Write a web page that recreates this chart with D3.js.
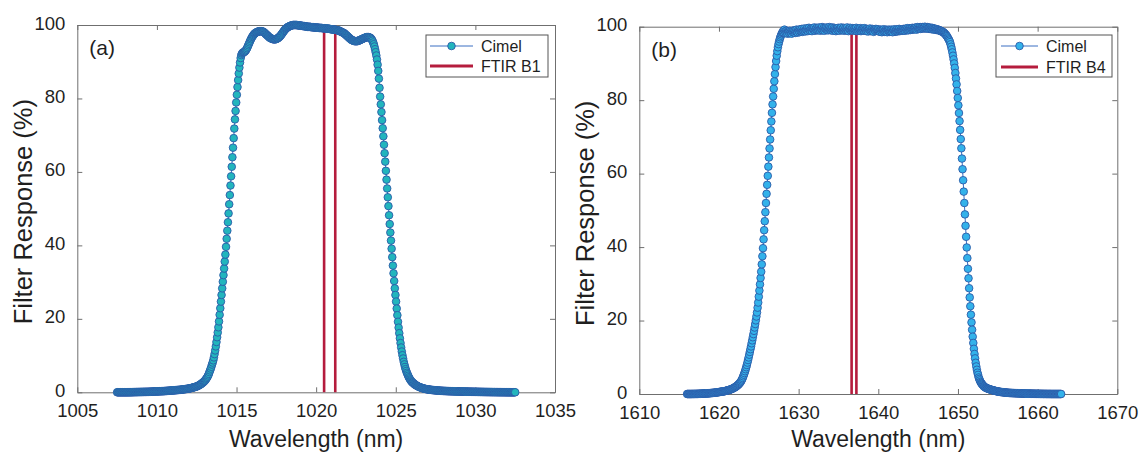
<!DOCTYPE html>
<html>
<head>
<meta charset="utf-8">
<script src="https://cdn.jsdelivr.net/npm/d3@7"></script>
<style>
  html, body { margin: 0; padding: 0; background: #ffffff; }
  svg { display: block; font-family: "Liberation Sans", Arial, Helvetica, sans-serif; }
</style>
</head>
<body>
<svg id="fig" width="1145" height="453"></svg>
<script>
// ---- Cimel 1020 nm filter (band B1): 0.04 nm grid, one row per nm ----
const cimelB1Start = 1007.5;   // nm
const cimelB1Step = 0.04;      // nm
const cimelB1Response = [
  /*1007.5*/ 0,0,0,0,0,0,0,0,0,0,0,0,0,0,0,0,0,0.01,0.01,0.01,0.01,0.02,0.02,0.02,0.03,
  /*1008.5*/ 0.04,0.04,0.05,0.05,0.06,0.06,0.06,0.07,0.07,0.08,0.08,0.08,0.09,0.09,0.09,0.1,0.1,0.11,0.11,0.11,0.12,0.12,0.12,0.13,0.13,
  /*1009.5*/ 0.14,0.15,0.16,0.17,0.17,0.18,0.19,0.2,0.2,0.21,0.22,0.23,0.23,0.24,0.25,0.26,0.27,0.27,0.28,0.29,0.3,0.31,0.31,0.32,0.33,
  /*1010.5*/ 0.35,0.36,0.37,0.38,0.4,0.41,0.42,0.44,0.45,0.46,0.47,0.49,0.5,0.52,0.53,0.55,0.56,0.58,0.59,0.61,0.62,0.64,0.65,0.67,0.68,
  /*1011.5*/ 0.7,0.72,0.75,0.77,0.8,0.82,0.84,0.87,0.89,0.92,0.94,0.97,0.99,1.03,1.07,1.11,1.15,1.2,1.24,1.29,1.34,1.38,1.43,1.48,1.53,
  /*1012.5*/ 1.6,1.68,1.76,1.85,1.95,2.05,2.17,2.29,2.42,2.56,2.7,2.86,3.02,3.2,3.45,3.7,3.95,4.25,4.6,5.0,5.5,5.95,6.45,6.95,7.55,
  /*1013.5*/ 8.1,8.7,9.5,10.4,11.4,12.5,13.7,15.0,16.3,17.7,19.3,21.1,22.9,24.7,26.5,28.3,30.1,31.9,33.7,35.6,37.5,39.6,41.8,44.0,46.3,
  /*1014.5*/ 48.7,51.2,53.7,56.3,58.8,61.4,64.0,66.6,69.2,71.8,74.3,76.6,78.9,81.0,83.1,85.0,86.8,88.4,89.8,91.0,91.8,92.2,92.4,92.55,92.6,
  /*1015.5*/ 92.7,92.85,93.1,93.35,93.7,94.1,94.5,94.9,95.3,95.7,96.1,96.4,96.75,97.0,97.25,97.5,97.65,97.8,97.95,98.0,98.1,98.2,98.25,98.3,98.3,
  /*1016.5*/ 98.3,98.3,98.3,98.25,98.2,98.1,97.95,97.8,97.6,97.45,97.3,97.15,97.0,96.8,96.65,96.5,96.4,96.35,96.25,96.2,96.1,96.1,96.1,96.1,96.1,
  /*1017.5*/ 96.2,96.3,96.35,96.5,96.65,96.8,96.95,97.2,97.4,97.65,97.9,98.15,98.4,98.6,98.85,99.0,99.15,99.3,99.45,99.5,99.6,99.7,99.75,99.85,99.9,
  /*1018.5*/ 99.9,100,100,100,100,100,100,100,99.95,99.9,99.9,99.9,99.85,99.8,99.8,99.8,99.75,99.7,99.7,99.7,99.65,99.6,99.6,99.55,99.5,
  /*1019.5*/ 99.5,99.5,99.5,99.5,99.45,99.4,99.4,99.4,99.4,99.35,99.3,99.3,99.3,99.3,99.3,99.3,99.25,99.2,99.2,99.2,99.2,99.2,99.15,99.1,99.1,
  /*1020.5*/ 99.1,99.1,99.1,99.05,99.0,99.0,99.0,99.0,98.95,98.9,98.9,98.85,98.8,98.8,98.8,98.75,98.7,98.7,98.7,98.65,98.6,98.55,98.5,98.5,98.45,
  /*1021.5*/ 98.3,98.2,98.15,98.05,97.95,97.9,97.8,97.7,97.5,97.35,97.2,97.05,96.9,96.7,96.55,96.4,96.25,96.1,95.95,95.9,95.8,95.7,95.65,95.6,95.6,
  /*1022.5*/ 95.6,95.6,95.6,95.65,95.7,95.8,95.9,95.95,96.05,96.1,96.2,96.3,96.35,96.45,96.5,96.6,96.65,96.7,96.7,96.7,96.7,96.6,96.55,96.45,96.25,
  /*1023.5*/ 96.0,95.7,95.25,94.75,94.15,93.4,92.6,91.7,90.6,89.2,87.5,85.4,82.9,80.5,78.4,76.3,74.1,71.9,69.7,67.4,65.1,62.8,60.3,57.9,55.5,
  /*1024.5*/ 53.1,50.7,48.2,45.8,43.5,41.3,39.1,36.8,34.5,32.4,30.3,28.3,26.5,24.7,22.8,21.0,19.2,17.6,16.1,14.7,13.4,12.2,11.1,10.1,9.2,
  /*1025.5*/ 8.3,7.6,6.9,6.3,5.8,5.3,4.9,4.5,4.1,3.8,3.5,3.25,3.0,2.8,2.65,2.5,2.35,2.2,2.05,1.97,1.85,1.75,1.65,1.56,1.48,
  /*1026.5*/ 1.4,1.34,1.27,1.21,1.15,1.1,1.05,1.0,0.96,0.92,0.88,0.85,0.81,0.79,0.76,0.74,0.71,0.69,0.66,0.64,0.62,0.6,0.59,0.57,0.55,
  /*1027.5*/ 0.54,0.52,0.5,0.49,0.47,0.46,0.45,0.43,0.42,0.41,0.4,0.39,0.38,0.37,0.36,0.36,0.35,0.34,0.33,0.32,0.32,0.31,0.3,0.3,0.29,
  /*1028.5*/ 0.28,0.28,0.27,0.27,0.26,0.26,0.25,0.25,0.25,0.24,0.24,0.23,0.23,0.22,0.22,0.22,0.21,0.21,0.2,0.2,0.2,0.19,0.19,0.18,0.18,
  /*1029.5*/ 0.18,0.17,0.17,0.17,0.16,0.16,0.15,0.15,0.15,0.14,0.14,0.14,0.13,0.13,0.13,0.12,0.12,0.12,0.11,0.11,0.11,0.1,0.1,0.1,0.09,
  /*1030.5*/ 0.09,0.09,0.08,0.08,0.08,0.08,0.07,0.07,0.07,0.07,0.06,0.06,0.06,0.06,0.05,0.05,0.05,0.05,0.05,0.04,0.04,0.04,0.04,0.03,0.03,
  /*1031.5*/ 0.03,0.03,0.03,0.03,0.02,0.02,0.02,0.02,0.02,0.02,0.01,0.01,0.01,0.01,0.01,0.01,0.01,0,0,0,0,0,0,0,0,
  /*1032.5*/ 0
];

// ---- Cimel 1640 nm filter (band B4): 0.075 nm grid, one row per 1.5 nm ----
const cimelB4Start = 1616.0;   // nm
const cimelB4Step = 0.075;     // nm
const cimelB4Response = [
  /*1616.0*/ 0,0,0,0,0,0,0,0,0.01,0.01,0.01,0.01,0.02,0.02,0.02,0.03,0.03,0.03,0.04,0.05,
  /*1617.5*/ 0.06,0.07,0.07,0.08,0.09,0.1,0.1,0.11,0.12,0.13,0.13,0.14,0.15,0.16,0.17,0.18,0.2,0.21,0.22,0.24,
  /*1619.0*/ 0.26,0.27,0.29,0.3,0.32,0.33,0.35,0.37,0.4,0.42,0.44,0.46,0.49,0.51,0.54,0.57,0.6,0.63,0.65,0.69,
  /*1620.5*/ 0.68,0.71,0.75,0.78,0.82,0.86,0.91,0.96,1.0,1.04,1.09,1.14,1.2,1.26,1.32,1.39,1.47,1.55,1.64,1.73,
  /*1622.0*/ 1.83,1.93,2.04,2.16,2.3,2.45,2.6,2.76,2.95,3.17,3.4,3.68,4.0,4.37,4.8,5.25,5.7,6.2,6.75,7.3,
  /*1623.5*/ 7.9,8.55,9.25,9.95,10.7,11.45,12.2,12.95,13.8,14.6,15.45,16.3,17.2,18.1,19.05,20.05,21.1,22.2,23.5,24.9,
  /*1625.0*/ 26.5,28.15,29.85,31.6,33.3,35.3,37.5,39.7,42.1,44.6,47.05,49.5,52.0,54.5,56.95,59.4,61.9,64.4,66.85,69.3,
  /*1626.5*/ 71.8,74.2,76.55,78.85,81.0,83.1,85.15,87.1,89.0,90.65,92.1,93.35,94.4,95.25,95.95,96.6,97.1,97.55,97.95,98.3,
  /*1628.0*/ 98.5,98.9,98.4,99.2,98.7,98.3,98.9,98.5,98.1,98.8,98.6,98.2,98.9,98.4,98.7,98.1,98.8,98.5,99.0,98.4,
  /*1629.5*/ 98.9,98.3,98.7,99.2,98.6,98.4,99.1,98.8,98.5,99.3,98.7,98.9,99.4,98.6,99.0,98.8,99.5,98.9,98.7,99.3,
  /*1631.0*/ 99.0,99.6,98.8,99.3,99.7,99.0,98.9,99.5,99.2,98.8,99.6,99.3,99.1,99.8,98.9,99.4,99.2,99.7,99.0,99.5,
  /*1632.5*/ 99.1,99.8,99.3,98.9,99.6,99.2,99.9,99.0,99.4,99.7,98.9,99.5,99.3,99.8,99.1,99.6,99.0,99.4,99.9,99.2,
  /*1634.0*/ 99.6,99.0,99.4,99.8,98.9,99.3,99.7,99.1,99.5,98.8,99.4,99.6,99.0,99.7,99.2,98.9,99.5,99.3,99.8,99.0,
  /*1635.5*/ 99.4,99.1,99.7,98.9,99.3,99.6,99.0,99.4,99.8,99.1,98.8,99.5,99.2,99.7,99.0,99.4,99.1,99.6,98.9,99.3,
  /*1637.0*/ 99.5,99.0,99.3,99.7,98.8,99.2,99.5,98.9,99.4,99.1,99.6,98.8,99.3,99.0,99.5,99.2,98.9,99.6,99.1,99.3,
  /*1638.5*/ 98.8,99.4,99.0,98.7,99.3,99.1,99.5,98.8,99.2,98.9,99.4,99.0,98.6,99.3,99.1,98.8,99.4,98.9,99.2,99.0,
  /*1640.0*/ 99.3,98.7,99.0,98.6,99.2,98.9,98.5,99.1,98.8,99.3,98.6,99.0,98.7,99.2,98.9,98.5,99.1,98.8,99.2,98.6,
  /*1641.5*/ 99.0,98.7,99.2,98.8,98.5,99.1,98.9,99.3,98.6,99.0,98.8,99.3,98.7,99.1,98.9,99.4,98.8,99.0,99.3,98.9,
  /*1643.0*/ 99.2,98.9,99.4,99.0,99.3,98.9,99.5,99.1,99.3,99.6,99.0,99.4,99.2,99.6,99.1,99.5,99.3,99.7,99.2,99.5,
  /*1644.5*/ 99.3,99.7,99.4,99.8,99.2,99.6,99.9,99.4,99.7,99.5,99.9,99.4,99.8,99.6,99.9,99.5,99.8,99.6,100.0,99.5,
  /*1646.0*/ 99.8,99.5,99.9,99.6,99.7,99.4,99.8,99.5,99.6,99.3,99.7,99.4,99.5,99.2,99.5,99.3,99.4,99.1,99.3,99.2,
  /*1647.5*/ 99.2,99.0,99.1,98.9,98.9,98.8,98.8,98.6,98.6,98.5,98.3,98.2,98.0,97.8,97.6,97.4,97.1,96.8,96.5,96.2,
  /*1649.0*/ 95.8,95.2,94.55,93.85,93.0,92.1,91.1,90.0,88.8,87.4,85.9,84.3,82.5,80.6,78.6,76.5,74.3,71.9,69.4,66.9,
  /*1650.5*/ 64.1,61.2,58.2,55.1,52.0,48.9,45.8,42.8,39.9,37.0,34.1,31.5,28.8,26.3,23.9,21.6,19.5,17.5,15.6,13.9,
  /*1652.0*/ 12.3,10.9,9.7,8.5,7.5,6.6,5.8,5.2,4.5,4.1,3.7,3.3,3.05,2.8,2.6,2.4,2.2,2.05,1.93,1.8,
  /*1653.5*/ 1.7,1.62,1.55,1.48,1.42,1.36,1.3,1.25,1.2,1.15,1.1,1.05,1.0,0.96,0.92,0.88,0.84,0.8,0.76,0.72,
  /*1655.0*/ 0.69,0.66,0.63,0.6,0.57,0.55,0.53,0.51,0.49,0.47,0.45,0.43,0.41,0.39,0.38,0.36,0.35,0.33,0.32,0.3,
  /*1656.5*/ 0.29,0.28,0.28,0.27,0.26,0.25,0.25,0.24,0.23,0.22,0.22,0.21,0.2,0.2,0.19,0.18,0.18,0.17,0.16,0.16,
  /*1658.0*/ 0.14,0.14,0.13,0.13,0.12,0.12,0.12,0.11,0.11,0.1,0.1,0.1,0.09,0.09,0.09,0.08,0.08,0.08,0.07,0.07,
  /*1659.5*/ 0.07,0.06,0.06,0.06,0.05,0.05,0.05,0.05,0.04,0.04,0.04,0.04,0.03,0.03,0.03,0.03,0.02,0.02,0.02,0.02,
  /*1661.0*/ 0.02,0.02,0.01,0.01,0.01,0.01,0.01,0.01,0.01,0,0,0,0,0,0,0,0,0,0,0,0,0,0,0,0,0,0
];

// ---- FTIR band outlines (wavelength in nm, response in %) ----
const ftirB1Wavelength = [1020.5, 1020.5, 1021.2, 1021.2];
const ftirB1Response   = [0, 99, 99, 0];
const ftirB4Wavelength = [1636.65, 1636.65, 1637.25, 1637.25];
const ftirB4Response   = [0, 99.2, 99.2, 0];

// ---- axis ticks ----
const xTicksB1 = [1005, 1010, 1015, 1020, 1025, 1030, 1035];
const xTicksB4 = [1610, 1620, 1630, 1640, 1650, 1660, 1670];
const yTicks   = [0, 20, 40, 60, 80, 100];

// ---- legend / panel labels ----
const panelLabels  = ["(a)", "(b)"];
const legendLabels = [["Cimel", "FTIR B1"], ["Cimel", "FTIR B4"]];
const xAxisTitle = "Wavelength (nm)";
const yAxisTitle = "Filter Response (%)";

// ---- styling ----
const AXIS_COLOR = "#6f6f6f";
const TEXT_COLOR = "#1f1f1f";
const CIMEL_LINE = "#3a6fc2";
const CIMEL_EDGE = "#2b5aa8";
const FTIR_COLOR = "#b51c3d";

const svg = d3.select("#fig");

function toPoints(start, step, values) {
  return values.map((v, i) => ({ w: start + i * step, r: v }));
}

function drawPanel(cfg) {
  const x = d3.scaleLinear().domain(cfg.xDomain).range([cfg.left, cfg.right]);
  const y = d3.scaleLinear().domain([0, 100]).range([cfg.bottom, cfg.top]);
  const g = svg.append("g");

  const styleAxis = sel => {
    sel.selectAll(".domain").attr("stroke", AXIS_COLOR).attr("stroke-width", 1);
    sel.selectAll(".tick line").attr("stroke", AXIS_COLOR).attr("stroke-width", 1);
    sel.selectAll(".tick text").attr("fill", TEXT_COLOR)
      .style("font-size", "18.5px");
  };

  // box with inward ticks on all four sides
  g.append("g").attr("transform", `translate(0,${cfg.bottom})`)
    .call(d3.axisBottom(x).tickValues(cfg.xTicks).tickFormat(d3.format("d"))
      .tickSizeInner(-5).tickSizeOuter(0).tickPadding(11.5))
    .call(styleAxis);
  g.append("g").attr("transform", `translate(0,${cfg.top})`)
    .call(d3.axisTop(x).tickValues(cfg.xTicks).tickFormat("")
      .tickSizeInner(-5).tickSizeOuter(0))
    .call(styleAxis);
  g.append("g").attr("transform", `translate(${cfg.left},0)`)
    .call(d3.axisLeft(y).tickValues(yTicks).tickFormat(d3.format("d"))
      .tickSizeInner(-5).tickSizeOuter(0).tickPadding(12))
    .call(styleAxis)
    .call(sel => sel.selectAll(".tick text").attr("dy", "0.22em"));
  g.append("g").attr("transform", `translate(${cfg.right},0)`)
    .call(d3.axisRight(y).tickValues(yTicks).tickFormat("")
      .tickSizeInner(-5).tickSizeOuter(0))
    .call(styleAxis);

  // axis titles
  g.append("text")
    .attr("x", (cfg.left + cfg.right) / 2).attr("y", 447)
    .attr("text-anchor", "middle").attr("fill", TEXT_COLOR)
    .style("font-size", "23px").text(xAxisTitle);
  g.append("text")
    .attr("transform", `translate(${cfg.left - 45.5},${(cfg.top + cfg.bottom) / 2 + 3}) rotate(-90)`)
    .attr("text-anchor", "middle").attr("fill", TEXT_COLOR)
    .style("font-size", "25.5px").text(yAxisTitle);

  // FTIR band outline
  const ftir = cfg.ftirW.map((w, i) => ({ w, r: cfg.ftirR[i] }));
  g.append("path").datum(ftir)
    .attr("fill", "none").attr("stroke", FTIR_COLOR).attr("stroke-width", 2.6)
    .attr("d", d3.line().x(d => x(d.w)).y(d => y(d.r)));

  // Cimel measured response: thin line plus circle markers
  const pts = toPoints(cfg.start, cfg.step, cfg.values);
  g.append("path").datum(pts)
    .attr("fill", "none").attr("stroke", CIMEL_LINE).attr("stroke-width", 1)
    .attr("d", d3.line().x(d => x(d.w)).y(d => y(d.r)));
  g.append("g").selectAll("circle").data(pts).join("circle")
    .attr("cx", d => x(d.w)).attr("cy", d => y(d.r)).attr("r", cfg.markerR)
    .attr("fill", cfg.markerFill).attr("stroke", CIMEL_EDGE).attr("stroke-width", 0.9);

  // panel label
  g.append("text").attr("x", cfg.left + 12).attr("y", cfg.top + 30)
    .attr("fill", TEXT_COLOR).style("font-size", "21px").text(cfg.label);

  // legend
  const L = cfg.legend;
  const lg = g.append("g");
  lg.append("rect").attr("x", L.x).attr("y", L.y).attr("width", L.w).attr("height", L.h)
    .attr("fill", "#ffffff").attr("stroke", "#555555").attr("stroke-width", 1);
  lg.append("line").attr("x1", L.lineX0).attr("x2", L.lineX1).attr("y1", L.row1).attr("y2", L.row1)
    .attr("stroke", CIMEL_LINE).attr("stroke-width", 1);
  lg.append("circle").attr("cx", (L.lineX0 + L.lineX1) / 2).attr("cy", L.row1).attr("r", cfg.markerR)
    .attr("fill", cfg.markerFill).attr("stroke", CIMEL_EDGE).attr("stroke-width", 0.9);
  lg.append("line").attr("x1", L.lineX0).attr("x2", L.lineX1).attr("y1", L.row2).attr("y2", L.row2)
    .attr("stroke", FTIR_COLOR).attr("stroke-width", 3);
  lg.append("text").attr("x", L.textX).attr("y", L.row1 + 6).attr("fill", TEXT_COLOR)
    .style("font-size", "16px").text(cfg.legendText[0]);
  lg.append("text").attr("x", L.textX).attr("y", L.row2 + 6).attr("fill", TEXT_COLOR)
    .style("font-size", "16px").text(cfg.legendText[1]);
}

drawPanel({
  left: 77.3, right: 555, top: 25, bottom: 392.3,
  xDomain: [1005, 1035], xTicks: xTicksB1,
  start: cimelB1Start, step: cimelB1Step, values: cimelB1Response,
  ftirW: ftirB1Wavelength, ftirR: ftirB1Response,
  markerFill: "#22b5bd", markerR: 3.8,
  label: panelLabels[0], legendText: legendLabels[0],
  legend: { x: 426, y: 35, w: 122, h: 42, lineX0: 430, lineX1: 473, textX: 481, row1: 46, row2: 66 }
});

drawPanel({
  left: 639.3, right: 1117.3, top: 26.7, bottom: 394,
  xDomain: [1610, 1670], xTicks: xTicksB4,
  start: cimelB4Start, step: cimelB4Step, values: cimelB4Response,
  ftirW: ftirB4Wavelength, ftirR: ftirB4Response,
  markerFill: "#33b2ea", markerR: 3.8,
  label: panelLabels[1], legendText: legendLabels[1],
  legend: { x: 996, y: 35, w: 116, h: 42, lineX0: 1001, lineX1: 1038, textX: 1046, row1: 46, row2: 67 }
});
</script>
</body>
</html>
